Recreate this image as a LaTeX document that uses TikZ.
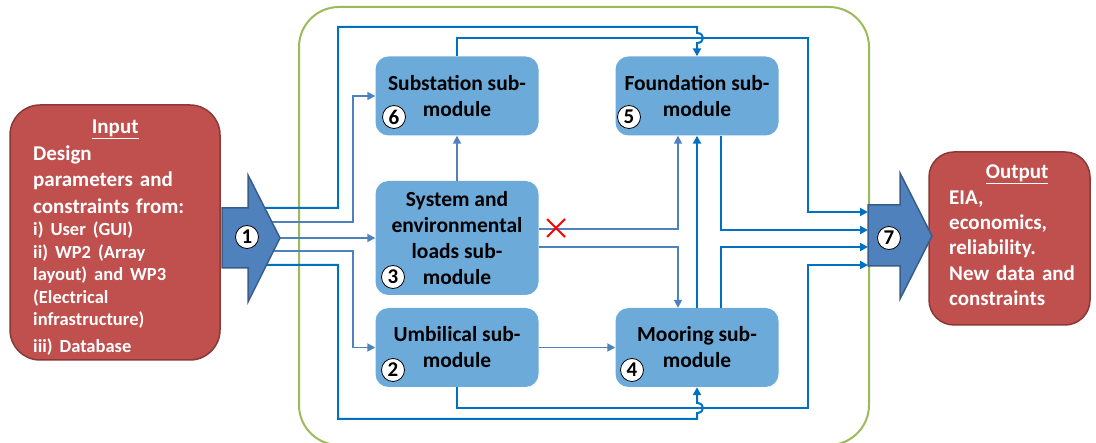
\documentclass[tikz,border=0pt]{standalone}
\usepackage{fontspec}
\setmainfont{Carlito}
\usetikzlibrary{arrows.meta, positioning}

\definecolor{boxred}{RGB}{192,80,77}
\definecolor{boxredline}{RGB}{140,56,54}
\definecolor{arrowblue}{RGB}{79,129,189}
\definecolor{arrowblueline}{RGB}{56,93,138}
\definecolor{modblue}{RGB}{108,170,218}
\definecolor{linedark}{RGB}{0,112,192}
\definecolor{framegreen}{RGB}{155,187,89}

\newcommand{\bigtxt}{\fontsize{21}{26.5}\selectfont}
\newcommand{\smalltxt}{\fontsize{18.5}{22.5}\selectfont}

\begin{document}
\begin{tikzpicture}[x=1pt, y=-1pt, >={Triangle[length=8pt,width=8pt]},
  module/.style={fill=modblue, rounded corners=13pt, minimum width=163pt, minimum height=79pt,
    inner sep=0pt, align=center, font=\fontsize{21.5}{26}\selectfont\bfseries},
  iobox/.style={fill=boxred, draw=boxredline, line width=1.5pt},
  iotext/.style={text=white, inner sep=0pt, align=left, text width=164pt, font=\bigtxt\bfseries},
  badge/.style={circle, draw=black, line width=0.8pt, fill=white, minimum size=23pt,
    inner sep=0pt, font=\fontsize{21}{21}\selectfont\bfseries},
  bigarrow/.style={fill=arrowblue, draw=arrowblueline, line width=1.5pt, line join=miter},
  dkline/.style={draw=linedark, line width=2pt, ->},
  ltline/.style={draw=arrowblue, line width=1.7pt, ->}]

\useasboundingbox (0,0) rectangle (1096,443);

% frame round the sub-modules
\draw[framegreen, line width=2pt, rounded corners=40pt] (299,7) rectangle (869,445);

% input and output
\node[iobox, rounded corners=30pt, minimum width=210pt, minimum height=255pt] (input) at (115,232.5) {};
\node[iotext, anchor=north west] (inputtxt) at (33,120) {\makebox[\linewidth]{\underline{Input}}\\ Design\\ parameters and\\ constraints from:\par
  \noindent\smalltxt i) User (GUI)\\ ii) WP2 (Array\\ layout) and WP3\\ (Electrical\\ infrastructure)\\ iii) Database};

\node[iobox, rounded corners=25pt, minimum width=161pt, minimum height=173pt] (output) at (1009.5,238.5) {};
\node[iotext, text width=136pt, anchor=north west, font=\fontsize{21}{25.3}\selectfont\bfseries] (outputtxt) at (949,165)
  {\makebox[\linewidth]{\underline{Output}}\\ EIA,\\ economics,\\ reliability.\\ New data and\\ constraints};

% sub-modules
\node[module] (sub) at (457,96) {Substation sub-\\module};
\node[module] (fnd) at (697,96) {Foundation sub-\\module};
\node[module, minimum height=114pt] (sys) at (457,238) {System and\\environmental\\loads sub-\\module};
\node[module] (umb) at (457,347.5) {Umbilical sub-\\module};
\node[module] (moor) at (697,347.5) {Mooring sub-\\module};

% ends at the big arrows
\coordinate (p1) at (250,208);
\coordinate (p2) at (250,222);
\coordinate (p3) at (250,238);
\coordinate (p4) at (250,251);
\coordinate (p5) at (250,265);
\coordinate (q1) at (868,212);
\coordinate (q2) at (868,230);
\coordinate (q3) at (868,247);
\coordinate (q4) at (868,265);

% connections
\draw[dkline] (p1) -| (338,27) -- (697,27) -- (697,33) .. controls (705,33) and (705,43) .. (697,43) -- (fnd.north);
\draw[ltline] (p2) -- (353,222) |- (sub.west);
\draw[ltline] (p3) -- (sys.west);
\draw[ltline] (p4) -- (353,251) |- (umb.west);
\draw[dkline] (p5) -| (338,419) -- (697,419) -- (697,413) .. controls (705,413) and (705,403) .. (697,403) -- (moor.south);

\draw[dkline] (sub.north) |- (808,38) |- (q1);
\draw[dkline] (umb.south) |- (808,408) |- (q4);

\draw[ltline] (sys.north) -- (sub.south);
\draw[ltline] ([yshift=9pt]sys.east) -| ([xshift=-19pt]fnd.south);
\draw[ltline] ([yshift=-9pt]sys.east) -| ([xshift=-19pt]moor.north);
\draw[ltline] (umb.east) -- (moor.west);

\draw[dkline] (moor.north) -- (fnd.south);
\draw[dkline] ([xshift=24pt]fnd.south) |- (q2);
\draw[dkline] ([xshift=24pt]moor.north) |- (q3);

% big arrows
\draw[bigarrow] (222,208) -- (248,208) -- (248,175) -- (280,238) -- (248,302) -- (248,268) -- (222,268) -- cycle;
\draw[bigarrow] (868,205) -- (900,205) -- (900,173) -- (932,236) -- (900,299) -- (900,266) -- (868,266) -- cycle;

% numbers
\node[badge] (b1) at (247,237) {1};
\node[badge] (b2) at (393,370) {2};
\node[badge] (b3) at (393,277) {3};
\node[badge] (b4) at (632,370) {4};
\node[badge] (b5) at (629,117) {5};
\node[badge] (b6) at (394,117) {6};
\node[badge] (b7) at (889,238) {7};

% cut link
\draw[red, line width=1.8pt] (547,219) -- (565,237) (547,237) -- (565,219);

\end{tikzpicture}
\end{document}
